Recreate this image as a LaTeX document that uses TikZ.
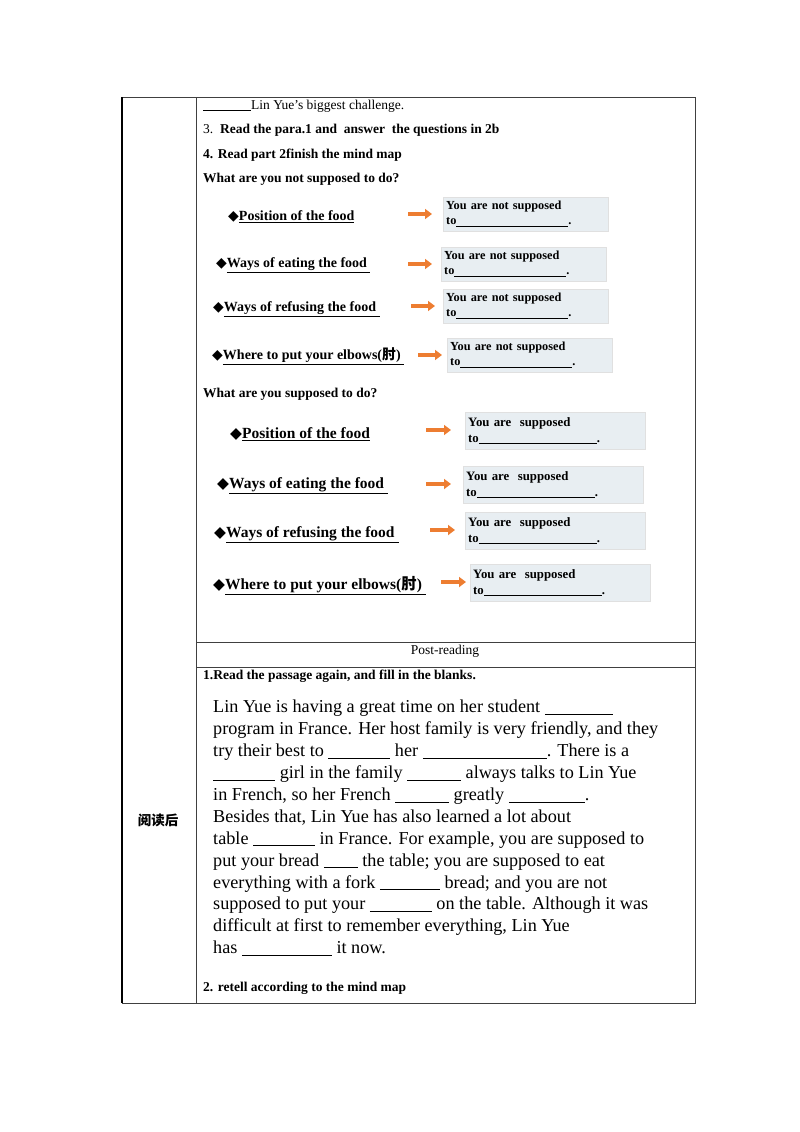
\documentclass[tikz,border=0pt]{standalone}
\usepackage{fontspec}
\setmainfont{Liberation Serif}
\newfontfamily\symfont{DejaVu Sans}
\newfontfamily\cjk{Noto Sans CJK SC}
\usetikzlibrary{arrows.meta}
\definecolor{boxfill}{HTML}{E8EEF2}
\definecolor{arrorange}{HTML}{ED7D31}
\newcommand\blank[1]{\underline{\hspace{#1pt}}}
\newcommand\dmd{{\symfont\char"25C6}}
\tikzstyle{rule}=[line width=.6pt,black!75]
\tikzstyle{txt}=[anchor=west,inner sep=0pt,font=\fontsize{13.5}{15}\selectfont]
\tikzstyle{btxt}=[txt,font=\fontsize{13.5}{15}\selectfont\bfseries]
\tikzstyle{item}=[anchor=west,inner sep=0pt,font=\bfseries]
\tikzstyle{ans}=[fill=boxfill,draw=black!12,anchor=north west,inner sep=3pt,align=left,font=\fontsize{12.8}{16}\selectfont\bfseries]
\tikzstyle{go}=[arrorange,line width=3.4pt,-{Triangle[length=7pt,width=10pt]}]
\begin{document}
\begin{tikzpicture}[x=1pt,y=-1pt]
	\useasboundingbox (0,0) rectangle (800,1132);
	% table
	\draw[rule] (122,97) rectangle (695,1003);
	\draw[rule] (196,97) -- (196,1003);
	\draw[rule] (196,642) -- (695,642);
	\draw[rule] (196,667) -- (695,667);
	\draw[line width=1.2pt] (122,97) -- (122,1003);
	% upper cell
	\node[txt] (chal) at (203,106) {\blank{48}Lin Yue's biggest challenge.};
	\node[btxt] (q3) at (203,130) {\mdseries 3.\ \ \bfseries Read the para.1 and\ \ answer\ \ the questions in 2b};
	\node[btxt] (q4) at (203,155) {4. Read part 2finish the mind map};
	\node[btxt] (qnot) at (203,179) {What are you not supposed to do?};
	\foreach \i/\lx/\ly/\ax/\bx/\by/\lab in {
		1/228/217/408/443/197/Position of the food,
		2/216/265/408/441/247/Ways of eating the food\ ,
		3/213/309/411/443/289/Ways of refusing the food\ ,
		4/212/356/418/447/338/Where to put your elbows({\cjk 肘})\ }{
		\node[item,font=\fontsize{14}{16}\selectfont\bfseries] (n\i) at (\lx,\ly) {\dmd\underline{\lab}};
		\node[ans,text width=159pt,minimum height=34pt,font=\fontsize{12.3}{15}\selectfont\bfseries] (nb\i) at (\bx,\by) {You are not supposed\\to\blank{112}.};
		\draw[go] (\ax,\by+17) -- ++(24,0);
	}
	\node[btxt] (qyes) at (203,394) {What are you supposed to do?};
	\foreach \i/\lx/\ly/\ax/\bx/\by/\lab in {
		1/230/434/426/465/412/Position of the food,
		2/217/486/426/463/466/Ways of eating the food\ ,
		3/214/535/430/465/512/Ways of refusing the food\ ,
		4/213/586/441/470/564/Where to put your elbows({\cjk 肘})\ }{
		\node[item,font=\fontsize{15.5}{17}\selectfont\bfseries] (y\i) at (\lx,\ly) {\dmd\underline{\lab}};
		\node[ans,text width=174pt,minimum height=37pt] (yb\i) at (\bx,\by) {You are\ \ supposed\\to\blank{118}.};
		\draw[go] (\ax,\by+18) -- ++(25,0);
	}
	% lower cell
	\node[font=\fontsize{13.5}{15}\selectfont] (post) at (445,651) {Post-reading};
	\node[font=\fontsize{13.5}{15}\selectfont\bfseries] (side) at (158,820) {{\cjk 阅读后}};
	\node[btxt] (q1) at (203,676) {1.Read the passage again, and fill in the blanks.};
	\node[anchor=north west,inner sep=0pt,align=left,font=\fontsize{18.2}{21.9}\selectfont] (pass) at (213,700) {%
		Lin Yue is having a great time on her student \blank{68}\\
		program in France. Her host family is very friendly, and they\\
		try their best to \blank{62} her \blank{124}. There is a\\
		\blank{62} girl in the family \blank{54} always talks to Lin Yue\\
		in French, so her French \blank{54} greatly \blank{76}.\\
		Besides that, Lin Yue has also learned a lot about\\
		table \blank{62} in France. For example, you are supposed to\\
		put your bread \blank{34} the table; you are supposed to eat\\
		everything with a fork \blank{60} bread; and you are not\\
		supposed to put your \blank{62} on the table. Although it was\\
		difficult at first to remember everything, Lin Yue\\
		has \blank{90} it now.};
	\node[btxt] (q2) at (203,988) {2. retell according to the mind map};
\end{tikzpicture}
\end{document}
